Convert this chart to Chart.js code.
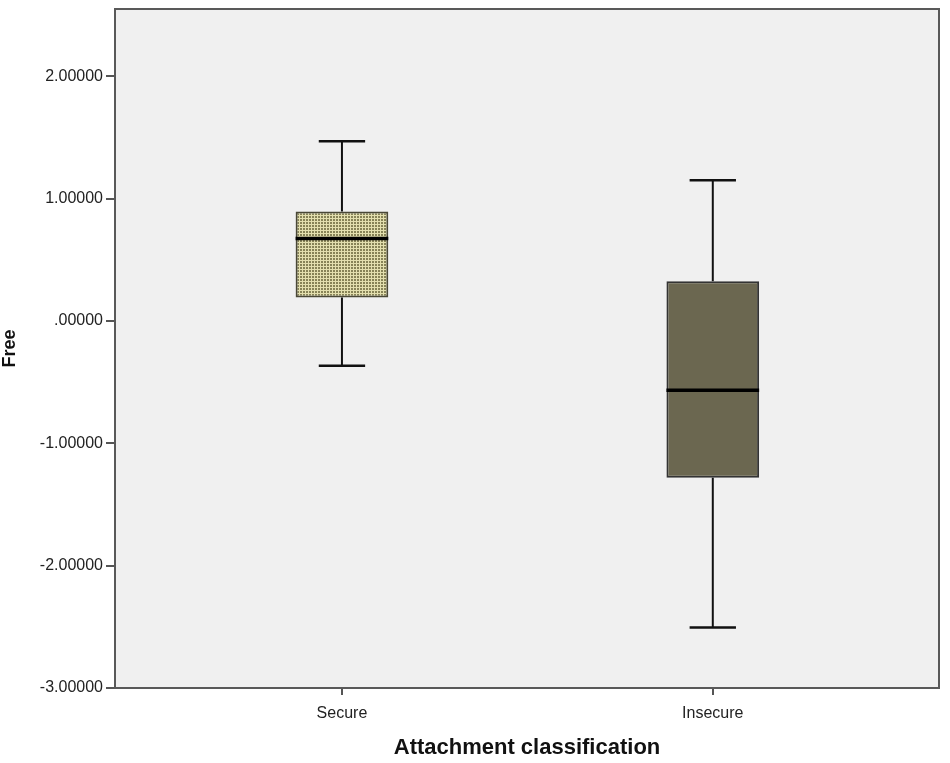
<!DOCTYPE html>
<html>
<head>
<meta charset="utf-8">
<script src="https://cdn.jsdelivr.net/npm/chart.js@4.4.1/dist/chart.umd.min.js"></script>
<style>
  html, body { margin: 0; padding: 0; background: #fff; }
  #wrap { width: 950px; height: 763px; position: relative; }
</style>
</head>
<body>
<div id="wrap"><canvas id="boxChart"></canvas></div>
<script>
const categories = ['Secure', 'Insecure'];
const whiskerLow = [-0.365, -2.505];
const quartile1 = [0.192, -1.281];
const medians = [0.674, -0.567];
const quartile3 = [0.895, 0.325];
const whiskerHigh = [1.468, 1.151];

const yTicks = [-3, -2, -1, 0, 1, 2];
const yTickLabels = ['-3.00000', '-2.00000', '-1.00000', '.00000', '1.00000', '2.00000'];

const FONT = "'Liberation Sans', Arial, sans-serif";

const plotFrame = {
  id: 'plotFrame',
  beforeDraw(chart) {
    const { ctx, chartArea: a } = chart;
    ctx.save();
    ctx.fillStyle = '#f0f0f0';
    ctx.fillRect(a.left, a.top, a.right - a.left, a.bottom - a.top);
    ctx.restore();
  },
  afterDatasetsDraw(chart) {
    const { ctx, chartArea: a } = chart;
    ctx.save();
    ctx.strokeStyle = '#595959';
    ctx.lineWidth = 2;
    ctx.strokeRect(a.left, a.top, a.right - a.left, a.bottom - a.top);
    ctx.restore();
  }
};

const boxWhiskers = {
  id: 'boxWhiskers',
  afterDatasetsDraw(chart) {
    const { ctx, scales: { x, y } } = chart;
    const bars = chart.getDatasetMeta(0).data;
    ctx.save();
    categories.forEach((label, i) => {
      const cx = x.getPixelForValue(i);
      const half = bars[i].width / 2;
      const capHalf = half / 2;
      const hi = y.getPixelForValue(whiskerHigh[i]);
      const lo = y.getPixelForValue(whiskerLow[i]);

      ctx.strokeStyle = '#111';
      ctx.lineWidth = 2;
      drawLine(ctx, cx, y.getPixelForValue(quartile3[i]), cx, hi);
      drawLine(ctx, cx, y.getPixelForValue(quartile1[i]), cx, lo);

      ctx.lineWidth = 2.5;
      drawLine(ctx, cx - capHalf, hi, cx + capHalf, hi);
      drawLine(ctx, cx - capHalf, lo, cx + capHalf, lo);

      ctx.strokeStyle = '#000';
      ctx.lineWidth = 3.5;
      const med = y.getPixelForValue(medians[i]);
      drawLine(ctx, cx - half, med, cx + half, med);
    });
    ctx.restore();
  }
};

function drawLine(ctx, x1, y1, x2, y2) {
  ctx.beginPath();
  ctx.moveTo(x1, y1);
  ctx.lineTo(x2, y2);
  ctx.stroke();
}

function dotPattern() {
  const tile = document.createElement('canvas');
  tile.width = 3;
  tile.height = 3;
  const t = tile.getContext('2d');
  t.fillStyle = '#e3dfae';
  t.fillRect(0, 0, 3, 3);
  t.fillStyle = '#878357';
  t.fillRect(0, 0, 2, 2);
  return t.createPattern(tile, 'repeat');
}

new Chart(document.getElementById('boxChart'), {
  type: 'bar',
  data: {
    datasets: [{
      data: categories.map((_, i) => ({ x: i, y: [quartile1[i], quartile3[i]] })),
      backgroundColor: [dotPattern(), '#6b6750'],
      borderColor: ['#4a4836', '#333'],
      borderWidth: 2,
      borderSkipped: false,
      barPercentage: 0.25,
      categoryPercentage: 1
    }]
  },
  options: {
    responsive: true,
    maintainAspectRatio: false,
    animation: false,
    layout: { padding: { top: 9, right: 11, bottom: 0, left: 0 } },
    plugins: {
      legend: { display: false },
      tooltip: { enabled: false }
    },
    scales: {
      x: {
        type: 'linear',
        min: -0.612,
        max: 1.61,
        offset: false,
        afterBuildTicks: (scale) => { scale.ticks = categories.map((_, i) => ({ value: i })); },
        afterFit: (scale) => { scale.height = 75; },
        grid: { offset: false, drawOnChartArea: false, drawTicks: true, tickLength: 7, color: '#555', lineWidth: 2 },
        border: { display: false },
        ticks: {
          callback: (value) => categories[value],
          color: '#222',
          padding: 9,
          maxRotation: 0,
          font: { family: FONT, size: 16 }
        },
        title: {
          display: true,
          text: 'Attachment classification',
          color: '#111',
          padding: { top: 0, bottom: 4 },
          font: { family: FONT, size: 22, weight: 'bold', lineHeight: 1 }
        }
      },
      y: {
        min: -3,
        max: 2.55,
        afterBuildTicks: (scale) => { scale.ticks = yTicks.map((v) => ({ value: v })); },
        afterFit: (scale) => { scale.width = 115; scale.paddingTop = 0; },
        grid: { drawOnChartArea: false, drawTicks: true, tickLength: 9, color: '#555', lineWidth: 2 },
        border: { display: false },
        ticks: {
          callback: (value) => yTickLabels[yTicks.indexOf(value)],
          color: '#222',
          padding: 3,
          font: { family: FONT, size: 16 }
        },
        title: {
          display: true,
          text: 'Free',
          color: '#111',
          padding: { top: 1, bottom: 0 },
          font: { family: FONT, size: 18, weight: 'bold', lineHeight: 1 }
        }
      }
    }
  },
  plugins: [plotFrame, boxWhiskers]
});
</script>
</body>
</html>
